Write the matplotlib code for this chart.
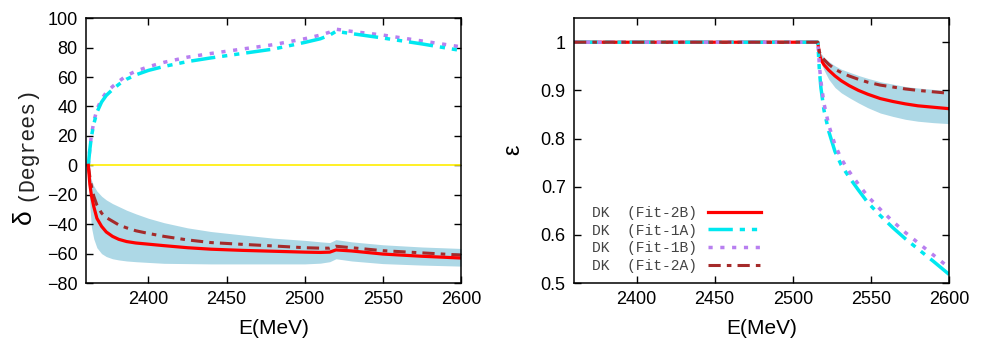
import matplotlib
matplotlib.use("Agg")
import matplotlib.pyplot as plt

# phase shift data (left panel)
E_phase = [2361.5, 2362.5, 2363.5, 2365, 2367, 2370, 2373, 2377, 2381, 2386, 2392, 2400,
           2410, 2425, 2440, 2460, 2480, 2500, 2510, 2516, 2520, 2530, 2550, 2575, 2600]
d_fit1A = [0, 11, 19.5, 28, 36, 43, 47.5, 51.5, 55, 58.5, 61.5, 64.5,
           67.2, 70.5, 73, 76, 79, 83.5, 86, 88.5, 91, 89.5, 86.5, 82.5, 78]
d_fit1B = [0, 11.5, 20.5, 29.5, 38, 45, 49.5, 53.5, 57, 61, 64, 67,
           70, 73.5, 76, 79, 82, 86, 88.5, 90.5, 92.5, 91, 88.5, 84.5, 80.5]
d_fit2B = [0, -13, -20.5, -28, -36, -41.5, -45.3, -48.3, -50.3, -51.8, -52.8, -53.6,
           -54.6, -56, -57, -57.8, -58.4, -59, -59.2, -59, -57.5, -58.2, -60.3, -61.8, -63]
d_fit2A = [0, -8, -14, -21, -27, -32.5, -35.5, -38, -40.5, -42.5, -44.5, -46.3,
           -48.3, -50.7, -52.5, -53.7, -54.8, -56, -56.3, -56.3, -55, -56, -58, -59.5, -61]
d_band_hi = [0, -6, -10, -14, -17.5, -21, -23.5, -26, -28, -30.5, -33, -36,
             -39, -42.5, -45, -47.3, -49.5, -51, -52, -52.5, -50.5, -52, -54, -55.5, -56.5]
d_band_lo = [0, -28, -42, -50, -56, -60, -62, -63.5, -64.3, -65, -65.5, -66,
             -66.6, -66.8, -67, -67, -67, -67, -66.5, -65.5, -63.5, -65, -66.8, -67.8, -68.5]

# inelasticity data (right panel)
E_inel = [2360, 2516, 2517, 2518, 2520, 2523, 2527, 2531, 2536, 2542, 2548,
          2556, 2564, 2572, 2580, 2590, 2600]
e_fit1A = [1, 1, 0.942, 0.905, 0.858, 0.815, 0.773, 0.745, 0.72, 0.693, 0.667,
           0.64, 0.615, 0.592, 0.571, 0.545, 0.518]
e_fit1B = [1, 1, 0.952, 0.918, 0.872, 0.828, 0.787, 0.758, 0.732, 0.705, 0.68,
           0.653, 0.628, 0.605, 0.584, 0.558, 0.532]
e_fit2B = [1, 1, 0.975, 0.964, 0.953, 0.942, 0.93, 0.92, 0.910, 0.900, 0.892,
           0.883, 0.877, 0.872, 0.868, 0.865, 0.862]
e_fit2A = [1, 1, 0.98, 0.973, 0.964, 0.954, 0.944, 0.937, 0.930, 0.923, 0.917,
           0.911, 0.907, 0.903, 0.900, 0.897, 0.894]
e_band_hi = [1, 1, 0.985, 0.977, 0.968, 0.96, 0.951, 0.944, 0.938, 0.931, 0.925,
             0.918, 0.913, 0.908, 0.905, 0.902, 0.90]
e_band_lo = [1, 1, 0.97, 0.958, 0.942, 0.923, 0.906, 0.895, 0.885, 0.874, 0.864,
             0.853, 0.846, 0.84, 0.836, 0.833, 0.831]

labels = ["DK  (Fit-2B)", "DK  (Fit-1A)", "DK  (Fit-1B)", "DK  (Fit-2A)"]

plt.rcParams['font.family'] = ['Liberation Sans', 'DejaVu Sans']

red = '#ff0000'
cyan = '#00e8f0'
purple = '#b87ff0'
brown = '#a52a2a'
band = '#add8e6'
sty_1A = (0, (7, 2, 1.5, 2, 1.5, 2))
sty_1B = (0, (1.2, 2.2))
sty_2A = (0, (4, 2, 1.5, 2))

fig = plt.figure(figsize=(9.88, 3.49), dpi=100)
ax1 = fig.add_axes([0.087, 0.189, 0.3796, 0.759])
ax2 = fig.add_axes([0.581, 0.189, 0.3796, 0.759])

# left panel
ax1.fill_between(E_phase, d_band_lo, d_band_hi, color=band, lw=0)
ax1.axhline(0, color='#ffee00', lw=1.2)
ax1.plot(E_phase, d_fit1B, color=purple, lw=2.5, ls=sty_1B)
ax1.plot(E_phase, d_fit1A, color=cyan, lw=2.5, ls=sty_1A)
ax1.plot(E_phase, d_fit2A, color=brown, lw=2.2, ls=sty_2A)
ax1.plot(E_phase, d_fit2B, color=red, lw=2.3)
ax1.set_xlim(2360, 2600)
ax1.set_ylim(-80, 100)
ax1.set_xticks([2400, 2450, 2500, 2550, 2600])
ax1.set_yticks(range(-80, 101, 20))

# right panel
ax2.fill_between(E_inel, e_band_lo, e_band_hi, color=band, lw=0)
l2B, = ax2.plot(E_inel, e_fit2B, color=red, lw=2.3)
l1A, = ax2.plot(E_inel, e_fit1A, color=cyan, lw=2.5, ls=sty_1A)
l1B, = ax2.plot(E_inel, e_fit1B, color=purple, lw=2.5, ls=sty_1B)
l2A, = ax2.plot(E_inel, e_fit2A, color=brown, lw=2.2, ls=sty_2A)
ax2.set_xlim(2360, 2600)
ax2.set_ylim(0.5, 1.05)
ax2.set_xticks([2400, 2450, 2500, 2550, 2600])
ax2.set_yticks([0.5, 0.6, 0.7, 0.8, 0.9, 1.0])
ax2.set_yticklabels(['0.5', '0.6', '0.7', '0.8', '0.9', '1'])

leg = ax2.legend([l2B, l1A, l1B, l2A], labels, loc='lower left', frameon=False,
                 markerfirst=False, handlelength=3.6, labelspacing=0.25,
                 borderaxespad=0.3, bbox_to_anchor=(0.02, 0.0),
                 prop={'family': 'Liberation Mono', 'size': 10.5})
for t in leg.get_texts():
    t.set_color('#444444')

for ax in (ax1, ax2):
    ax.tick_params(direction='in', length=5, width=1, top=True, right=True,
                   labelsize=13, pad=6)
    for s in ax.spines.values():
        s.set_linewidth(1.1)
    ax.set_xlabel('E(MeV)', fontsize=15, labelpad=8)

fig.text(0.024, 0.38, 'δ', rotation=90, fontsize=19, ha='center', va='center')
fig.text(0.026, 0.59, '(Degrees)', rotation=90, fontsize=15.5, ha='center', va='center',
         family='Liberation Mono', color='#222222')
fig.text(0.519, 0.57, 'ε', rotation=90, fontsize=17, ha='center', va='center')

fig.savefig('out.png', dpi=100)
